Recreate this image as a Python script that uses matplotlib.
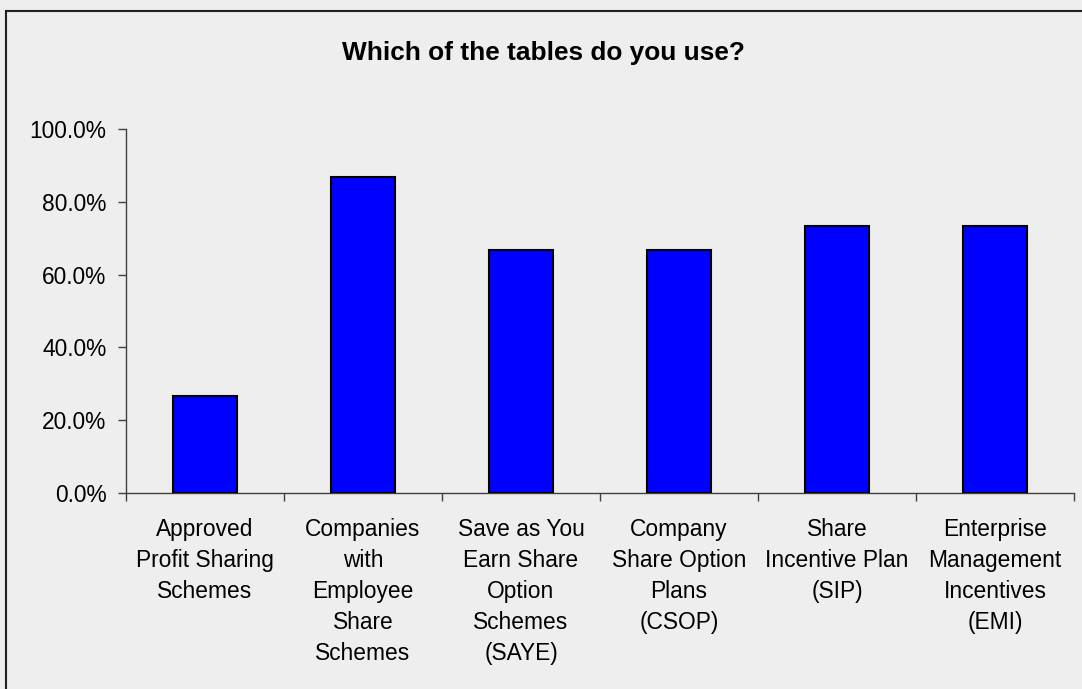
import matplotlib
matplotlib.use("Agg")
import matplotlib.pyplot as plt
from matplotlib.patches import Rectangle
from matplotlib.ticker import FuncFormatter, FixedLocator

plt.rcParams['font.family'] = ['Liberation Sans', 'DejaVu Sans']

categories = [
    "Approved\nProfit Sharing\nSchemes",
    "Companies\nwith\nEmployee\nShare\nSchemes",
    "Save as You\nEarn Share\nOption\nSchemes\n(SAYE)",
    "Company\nShare Option\nPlans\n(CSOP)",
    "Share\nIncentive Plan\n(SIP)",
    "Enterprise\nManagement\nIncentives\n(EMI)",
]
share_used = [26.7, 86.7, 66.7, 66.7, 73.3, 73.3]
y_ticks = [0, 20, 40, 60, 80, 100]

W, H = 1082, 689
fig = plt.figure(figsize=(W / 100, H / 100), dpi=100, facecolor="#eeeeee")
ax = fig.add_axes([126 / W, 1 - 493 / H, (1074 - 126) / W, (493 - 129) / H])
ax.set_facecolor("#eeeeee")

x = list(range(len(categories)))
ax.bar(x, share_used, width=0.4, color="#0000ff", edgecolor="black", linewidth=1.5, zorder=3)

ax.set_xlim(-0.5, len(categories) - 0.5)
ax.set_ylim(0, 100)

for side in ("top", "right"):
    ax.spines[side].set_visible(False)
for side in ("left", "bottom"):
    ax.spines[side].set_color("#404040")
    ax.spines[side].set_linewidth(1.0)

ax.yaxis.set_major_locator(FixedLocator(y_ticks))
ax.yaxis.set_major_formatter(FuncFormatter(lambda v, p: f"{v:.1f}%"))
ax.tick_params(axis="y", direction="out", length=6, width=1, color="#404040",
               labelsize=16.4, pad=8)

# boundaries between categories carry the tick marks, centres carry the labels
ax.xaxis.set_major_locator(FixedLocator([i - 0.5 for i in range(len(categories) + 1)]))
ax.xaxis.set_major_formatter(FuncFormatter(lambda v, p: ""))
ax.xaxis.set_minor_locator(FixedLocator(x))
ax.set_xticklabels(categories, minor=True, linespacing=1.45)
ax.tick_params(axis="x", which="major", direction="out", length=6, width=1, color="#404040")
ax.tick_params(axis="x", which="minor", length=0, labelsize=16.4, pad=18)
for lbl in ax.get_xticklabels(minor=True):
    lbl.set_verticalalignment("top")
    lbl.set_horizontalalignment("center")

fig.text(543 / W, 1 - 53 / H, "Which of the tables do you use?", ha="center", va="center",
         fontsize=18.9, fontweight="bold")

# frame around the chart area
fig.patches.append(Rectangle((6 / W, -0.05), 1.1, 1.05 - 10.5 / H, transform=fig.transFigure,
                             fill=False, edgecolor="#202020", linewidth=1.5, zorder=0))

fig.savefig("out.png", dpi=100, facecolor=fig.get_facecolor())
